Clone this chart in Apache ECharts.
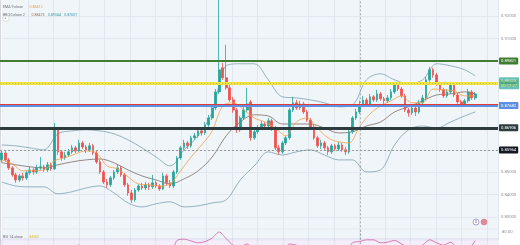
<!DOCTYPE html>
<html><head><meta charset="utf-8">
<script src="https://cdn.jsdelivr.net/npm/echarts@6/dist/echarts.min.js"></script>
<style>html,body{margin:0;padding:0;background:#fff}#c{width:520px;height:245px}</style>
</head><body><div id="c"></div>
<script>
// ---------- DATA ----------
const slotCount = 142; // candles + empty future slots
const opens = [0.8556,0.8587,0.8556,0.8520,0.8489,0.8466,0.8484,0.8475,0.8498,0.8511,
0.8502,0.8520,0.8525,0.8511,0.8534,0.8516,0.8691,0.8592,0.8565,0.8578,
0.8592,0.8610,0.8596,0.8632,0.8614,0.8601,0.8619,0.8587,0.8547,0.8502,
0.8457,0.8444,0.8475,0.8502,0.8520,0.8489,0.8444,0.8408,0.8377,0.8421,
0.8439,0.8430,0.8444,0.8435,0.8453,0.8439,0.8426,0.8484,0.8453,0.8439,
0.8502,0.8565,0.8610,0.8632,0.8619,0.8655,0.8664,0.8686,0.8677,0.8713,
0.8744,0.8789,0.8861,0.8969,0.8924,0.8879,0.8825,0.8780,0.8691,0.8744,
0.8780,0.8816,0.8655,0.8682,0.8699,0.8717,0.8708,0.8731,0.8699,0.8610,
0.8592,0.8632,0.8655,0.8780,0.8812,0.8789,0.8807,0.8771,0.8735,0.8704,
0.8655,0.8619,0.8632,0.8610,0.8592,0.8619,0.8605,0.8623,0.8601,0.8592,
0.8682,0.8744,0.8771,0.8803,0.8825,0.8807,0.8839,0.8825,0.8852,0.8830,
0.8821,0.8834,0.8861,0.8892,0.8874,0.8843,0.8780,0.8767,0.8789,0.8771,
0.8812,0.8834,0.8915,0.8960,0.8937,0.8897,0.8870,0.8843,0.8861,0.8892,
0.8847,0.8816,0.8807,0.8821,0.8861,0.8834];
const closes = [0.8587,0.8556,0.8520,0.8489,0.8466,0.8484,0.8475,0.8498,0.8511,0.8502,
0.8520,0.8525,0.8511,0.8534,0.8516,0.8699,0.8592,0.8565,0.8578,0.8592,
0.8610,0.8596,0.8632,0.8614,0.8601,0.8619,0.8587,0.8547,0.8502,0.8457,
0.8444,0.8475,0.8502,0.8520,0.8489,0.8444,0.8408,0.8377,0.8421,0.8439,
0.8430,0.8444,0.8435,0.8453,0.8439,0.8426,0.8484,0.8453,0.8439,0.8502,
0.8565,0.8610,0.8632,0.8619,0.8655,0.8664,0.8686,0.8677,0.8713,0.8744,
0.8789,0.8861,0.8960,0.8924,0.8879,0.8825,0.8780,0.8691,0.8744,0.8780,
0.8807,0.8655,0.8682,0.8699,0.8717,0.8708,0.8731,0.8699,0.8610,0.8592,
0.8632,0.8655,0.8780,0.8812,0.8789,0.8807,0.8771,0.8735,0.8704,0.8655,
0.8619,0.8632,0.8610,0.8592,0.8619,0.8605,0.8623,0.8601,0.8592,0.8682,
0.8744,0.8771,0.8803,0.8825,0.8807,0.8839,0.8825,0.8852,0.8830,0.8821,
0.8834,0.8861,0.8892,0.8874,0.8843,0.8780,0.8767,0.8789,0.8771,0.8812,
0.8834,0.8915,0.8960,0.8937,0.8897,0.8870,0.8843,0.8861,0.8892,0.8847,
0.8816,0.8807,0.8821,0.8861,0.8834,0.8852];
const lows = [0.8543,0.8547,0.8511,0.8480,0.8453,0.8457,0.8462,0.8466,0.8489,0.8489,
0.8493,0.8511,0.8502,0.8502,0.8507,0.8511,0.8578,0.8552,0.8556,0.8569,
0.8583,0.8587,0.8592,0.8605,0.8587,0.8592,0.8578,0.8538,0.8493,0.8448,
0.8430,0.8435,0.8466,0.8493,0.8480,0.8435,0.8395,0.8363,0.8368,0.8413,
0.8421,0.8421,0.8421,0.8426,0.8430,0.8417,0.8421,0.8444,0.8430,0.8430,
0.8493,0.8556,0.8601,0.8605,0.8610,0.8646,0.8655,0.8664,0.8668,0.8704,
0.8735,0.8780,0.8852,0.8915,0.8870,0.8816,0.8767,0.8677,0.8682,0.8735,
0.8771,0.8641,0.8646,0.8673,0.8691,0.8695,0.8699,0.8686,0.8601,0.8578,
0.8583,0.8623,0.8646,0.8771,0.8780,0.8780,0.8762,0.8726,0.8695,0.8646,
0.8610,0.8605,0.8601,0.8578,0.8583,0.8596,0.8596,0.8592,0.8578,0.8583,
0.8673,0.8735,0.8762,0.8794,0.8798,0.8798,0.8816,0.8816,0.8821,0.8807,
0.8812,0.8825,0.8852,0.8865,0.8834,0.8771,0.8749,0.8758,0.8753,0.8762,
0.8803,0.8825,0.8906,0.8924,0.8888,0.8861,0.8834,0.8834,0.8852,0.8839,
0.8807,0.8794,0.8798,0.8812,0.8825,0.8825];
const highs = [0.8601,0.8596,0.8565,0.8529,0.8498,0.8493,0.8498,0.8507,0.8525,0.8520,
0.8534,0.8569,0.8534,0.8547,0.8543,0.8722,0.8704,0.8601,0.8592,0.8605,
0.8623,0.8619,0.8646,0.8641,0.8623,0.8632,0.8628,0.8596,0.8556,0.8511,
0.8471,0.8484,0.8511,0.8534,0.8529,0.8498,0.8453,0.8421,0.8430,0.8448,
0.8453,0.8457,0.8453,0.8489,0.8462,0.8448,0.8498,0.8493,0.8466,0.8511,
0.8574,0.8619,0.8646,0.8641,0.8664,0.8677,0.8699,0.8695,0.8726,0.8758,
0.8803,0.8874,0.9290,0.8991,0.9072,0.8892,0.8839,0.8789,0.8753,0.8794,
0.8879,0.8825,0.8691,0.8713,0.8731,0.8726,0.8744,0.8740,0.8708,0.8623,
0.8641,0.8664,0.8789,0.8839,0.8825,0.8821,0.8816,0.8780,0.8744,0.8713,
0.8664,0.8646,0.8641,0.8619,0.8628,0.8628,0.8637,0.8632,0.8614,0.8691,
0.8753,0.8785,0.8821,0.8843,0.8834,0.8852,0.8847,0.8870,0.8861,0.8839,
0.8847,0.8874,0.8906,0.8901,0.8883,0.8852,0.8789,0.8803,0.8798,0.8825,
0.8847,0.8928,0.8973,0.8969,0.8946,0.8906,0.8879,0.8874,0.8906,0.8897,
0.8856,0.8825,0.8830,0.8874,0.8870,0.8861];

const bbIdx   = [0,4,8,12,16,20,24,28,32,36,40,44,48,52,56,60,64,68,72,76,80,84,88,92,96,100,104,108,112,116,120,124,128,132,135];
const bbUpper = [0.8623,0.8619,0.8610,0.8601,0.8673,0.8686,0.8691,0.8686,0.8673,0.8646,0.8610,0.8569,0.8529,0.8601,0.8664,0.8771,0.8978,0.8987,0.8987,0.8915,0.8839,0.8834,0.8825,0.8812,0.8794,0.8803,0.8915,0.8942,0.8915,0.8897,0.8915,0.8987,0.8978,0.8960,0.8933];
const bbBasis = [0.8543,0.8534,0.8525,0.8520,0.8534,0.8547,0.8556,0.8560,0.8543,0.8511,0.8484,0.8466,0.8448,0.8471,0.8507,0.8569,0.8664,0.8726,0.8758,0.8753,0.8717,0.8717,0.8717,0.8699,0.8677,0.8682,0.8708,0.8726,0.8771,0.8794,0.8821,0.8847,0.8852,0.8861,0.8852];
const bbLower = [0.8457,0.8439,0.8435,0.8435,0.8404,0.8413,0.8430,0.8439,0.8408,0.8363,0.8345,0.8359,0.8368,0.8345,0.8350,0.8363,0.8377,0.8466,0.8529,0.8592,0.8578,0.8592,0.8601,0.8578,0.8556,0.8556,0.8502,0.8511,0.8623,0.8691,0.8708,0.8699,0.8726,0.8753,0.8771];

const emaIdx = [0,3,6,9,12,15,18,21,24,27,30,33,36,39,42,45,48,51,54,57,60,63,66,69,72,75,78,81,84,87,90,93,96,99,102,105,108,111,114,117,120,123,126,129,132,135];
const ema9   = [0.8556,0.8538,0.8507,0.8507,0.8511,0.8552,0.8565,0.8583,0.8596,0.8587,0.8529,0.8516,0.8480,0.8448,0.8444,0.8439,0.8448,0.8507,0.8569,0.8623,0.8686,0.8798,0.8812,0.8780,0.8744,0.8726,0.8699,0.8664,0.8726,0.8744,0.8699,0.8655,0.8637,0.8632,0.8704,0.8762,0.8798,0.8821,0.8843,0.8812,0.8812,0.8874,0.8870,0.8865,0.8843,0.8843];

const rsiIdx = [0,2,4,6,8,10,12,14,16,18,20,22,24,26,28,30,32,34,36,38,40,42,44,46,48,50,52,54,56,58,60,62,64,66,68,70,72,74,76,78,80,82,84,86,88,90,92,94,96,98,100,102,104,106,108,110,112,114,116,118,120,122,124,126,128,130,132,134,135];
const rsi14  = [45,38,32,36,42,46,44,46,55,50,55,58,54,52,38,32,42,40,32,40,40,42,42,48,44,66,68,65,62,64,70,80,69,58,56,60,48,52,53,42,46,60,58,55,48,42,42,44,45,43,62,64,67,67,62,63,66,60,54,54,58,67,62,58,63,54,56,58,65.5];

const levelValues = [0.89821, 0.89036, 0.88004, 0.87682, 0.86906, 0.85964];
const currentPrice = 0.88520;
const countdown = '00:17:27';
const sessionBreakSlot = 102.85;
const priceTicks = {min: 0.82, max: 0.9273, step: 0.01};
const legendEma = '0.88412';
const legendBB = ['0.88475', '0.89344', '0.87607'];
const legendRsi = '65.50';

// ---------- STYLES ----------
const UP = '#26a69a', DOWN = '#ef5350';
const levelStyles = [
  {color:'#3f7d32', width:2, bg:'#3f7d32', fg:'#fff', type:'solid'},
  {color:'#f5e23a', width:3, bg:'#f5e23a', fg:'#333', type:'solid'},
  {color:'#e53935', width:3, bg:'#e53935', fg:'#fff', type:'solid'},
  {color:'#5d8fe3', width:2, bg:'#5d8fe3', fg:'#fff', type:'solid'},
  {color:'#2e3b3d', width:3, bg:'#2e3b3d', fg:'#fff', type:'solid'},
  {color:'#9a9a9a', width:1, bg:'#131722', fg:'#fff', type:[2,2]}
];
const FONT = 'Roboto, sans-serif';
const GRID_RIGHT = 22;
const PRICE_PX = 2230; // pixels per 1.0 price

const candleData = opens.map((o, i) => [o, closes[i], lows[i], highs[i]]);
const cats = Array.from({length: slotCount}, (_, i) => String(i));
const toXY = (idx, vals) => idx.map((i, k) => [i + 0.5, vals[k]]);
const bbDiff = bbIdx.map((i, k) => [i + 0.5, +(bbUpper[k] - bbLower[k]).toFixed(5)]);

const labelBox = (bg, fg, txt) => ({
  show: true, position: 'end', distance: 1, formatter: txt,
  backgroundColor: bg, color: fg, fontSize: 4.2, fontFamily: FONT,
  padding: [1.2, 2, 0.8, 2], borderRadius: 1, lineHeight: 5
});

const levelMarks = levelValues.map((v, k) => ({
  yAxis: v,
  lineStyle: {color: levelStyles[k].color, width: levelStyles[k].width, type: levelStyles[k].type},
  label: labelBox(levelStyles[k].bg, levelStyles[k].fg, v.toFixed(5))
}));
levelMarks.push({
  yAxis: currentPrice,
  lineStyle: {color: UP, width: 0.6, type: [1, 2], opacity: 0.7},
  label: labelBox(UP, '#fff', currentPrice.toFixed(5) + '\n' + countdown)
});

const busyValues = levelValues.concat([currentPrice]);
const priceLabel = v => {
  if (busyValues.some(b => Math.abs(b - v) < 0.0015)) return '';
  return v.toFixed(5);
};

const chart = echarts.init(document.getElementById('c'), null, {renderer: 'canvas'});
chart.setOption({
  animation: false,
  backgroundColor: '#ffffff',
  grid: [
    {left: 0, right: GRID_RIGHT, top: 0, height: (priceTicks.max - priceTicks.min) * PRICE_PX, outerBoundsMode: 'none', containLabel: false},
    {left: 0, right: GRID_RIGHT, top: 229, height: 51, outerBoundsMode: 'none', containLabel: false},
    {left: 2.5, right: GRID_RIGHT, top: 0, bottom: 0, outerBoundsMode: 'none', containLabel: false}
  ],
  xAxis: [
    {type: 'category', gridIndex: 0, data: cats, boundaryGap: true, show: false},
    {type: 'value', gridIndex: 0, min: 0, max: slotCount, show: false},
    {type: 'value', gridIndex: 1, min: 0, max: slotCount, show: false},
    {type: 'value', gridIndex: 2, min: 0, max: 495.5, interval: 25.5,
     axisLine: {show: false}, axisTick: {show: false}, axisLabel: {show: false},
     splitLine: {show: true, lineStyle: {color: '#eef0f3', width: 1}}}
  ],
  yAxis: [
    {type: 'value', gridIndex: 0, position: 'right', min: priceTicks.min, max: priceTicks.max, interval: priceTicks.step,
     axisLine: {show: true, lineStyle: {color: '#d5d8de', width: 1}}, axisTick: {show: false},
     axisLabel: {fontSize: 4.2, color: '#8a8e97', fontFamily: FONT, margin: 3, formatter: priceLabel, showMinLabel: false, showMaxLabel: false},
     splitLine: {show: true, showMinLine: false, showMaxLine: false, lineStyle: {color: '#eef0f3', width: 1}}},
    {type: 'value', gridIndex: 1, position: 'right', min: 0, max: 85, interval: 10,
     axisLine: {show: true, lineStyle: {color: '#d5d8de', width: 1}}, axisTick: {show: false},
     axisLabel: {fontSize: 4.2, color: '#8a8e97', fontFamily: FONT, margin: 4, formatter: v => v === 80 ? '80.00' : ''},
     splitLine: {show: false}},
    {type: 'value', gridIndex: 2, min: 0, max: 1, show: false}
  ],
  series: [
    {type: 'line', xAxisIndex: 3, yAxisIndex: 2, data: [], silent: true},
    // Bollinger fill
    {name: 'bbBase', type: 'line', xAxisIndex: 1, yAxisIndex: 0, stack: 'bb', smooth: 0.35, symbol: 'none',
     data: toXY(bbIdx, bbLower), lineStyle: {opacity: 0}, silent: true, z: 1},
    {name: 'bbFill', type: 'line', xAxisIndex: 1, yAxisIndex: 0, stack: 'bb', smooth: 0.35, symbol: 'none',
     data: bbDiff, lineStyle: {opacity: 0}, areaStyle: {color: 'rgba(120,170,200,0.16)'}, silent: true, z: 1},
    {name: 'bbUpper', type: 'line', xAxisIndex: 1, yAxisIndex: 0, smooth: 0.35, symbol: 'none',
     data: toXY(bbIdx, bbUpper), lineStyle: {color: '#7f9fae', width: 0.8}, silent: true, z: 2},
    {name: 'bbLower', type: 'line', xAxisIndex: 1, yAxisIndex: 0, smooth: 0.35, symbol: 'none',
     data: toXY(bbIdx, bbLower), lineStyle: {color: '#7f9fae', width: 0.8}, silent: true, z: 2},
    {name: 'bbBasis', type: 'line', xAxisIndex: 1, yAxisIndex: 0, smooth: 0.35, symbol: 'none',
     data: toXY(bbIdx, bbBasis), lineStyle: {color: '#6d5a52', width: 0.7}, silent: true, z: 2,
     markLine: {symbol: ['none', 'none'], silent: true, label: {show: false},
       lineStyle: {color: '#9aa0a8', type: [2, 2], width: 0.8},
       data: [{xAxis: sessionBreakSlot}]}},
    // candles
    {name: 'price', type: 'candlestick', xAxisIndex: 0, yAxisIndex: 0, data: candleData, barWidth: '62%',
     itemStyle: {color: UP, color0: DOWN, borderColor: UP, borderColor0: DOWN, borderWidth: 0.8}, z: 3,
     markLine: {symbol: ['none', 'none'], silent: true, data: levelMarks}},
    {name: 'ema', type: 'line', xAxisIndex: 1, yAxisIndex: 0, smooth: 0.35, symbol: 'none',
     data: toXY(emaIdx, ema9), lineStyle: {color: '#f4a04a', width: 0.8}, silent: true, z: 4},
    // RSI
    {name: 'rsi', type: 'line', xAxisIndex: 2, yAxisIndex: 1, smooth: 0.3, symbol: 'none',
     data: toXY(rsiIdx, rsi14), lineStyle: {color: '#d05ca8', width: 0.8}, silent: true, z: 3,
     markArea: {silent: true, itemStyle: {color: 'rgba(150,90,210,0.10)'}, data: [[{yAxis: 30}, {yAxis: 70}]]},
     markLine: {symbol: ['none', 'none'], silent: true, label: {show: false},
       data: [
         {xAxis: sessionBreakSlot, lineStyle: {color: '#9aa0a8', type: [2, 2], width: 0.8}}
       ]}}
  ],
  graphic: [
    {type: 'line', shape: {x1: 0, y1: 229, x2: 498, y2: 229}, style: {stroke: '#e6e8ee', lineWidth: 1}, z: 10},
    {type: 'text', left: 3, top: 1, z: 20, style: {
      text: '{l|EMA 9 close}  {o|' + legendEma + '}',
      rich: {l: {fontSize: 3.6, fill: '#6a6d78', fontFamily: FONT}, o: {fontSize: 3.6, fill: '#f4a04a', fontFamily: FONT}}}},
    {type: 'text', left: 3, top: 9, z: 20, style: {
      text: '{l|BB 20 close 2}  {b|' + legendBB[0] + '} {u|' + legendBB[1] + '} {u|' + legendBB[2] + '}',
      rich: {l: {fontSize: 3.6, fill: '#6a6d78', fontFamily: FONT}, b: {fontSize: 3.6, fill: '#a0705a', fontFamily: FONT},
             u: {fontSize: 3.6, fill: '#3a9bb0', fontFamily: FONT}}}},
    {type: 'rect', shape: {x: 3, y: 16, width: 6, height: 5, r: 1}, style: {fill: '#fff', stroke: '#c9ccd3', lineWidth: 0.6}, z: 20},
    {type: 'text', left: 4.6, top: 16.6, z: 21, style: {text: '^', fontSize: 4, fill: '#555', fontFamily: FONT}},
    {type: 'text', left: 3, top: 231.5, z: 20, style: {
      text: '{l|RSI 14 close}  {o|' + legendRsi + '}',
      rich: {l: {fontSize: 3.6, fill: '#6a6d78', fontFamily: FONT}, o: {fontSize: 3.6, fill: '#e0a800', fontFamily: FONT}}}},
    {type: 'circle', shape: {cx: 476, cy: 222, r: 3}, style: {fill: '#fff', stroke: '#8b7fb8', lineWidth: 0.7}, z: 20},
    {type: 'text', left: 474.8, top: 219.8, z: 21, style: {text: 'D', fontSize: 3.6, fill: '#6f63a3', fontFamily: FONT}},
    {type: 'circle', shape: {cx: 484, cy: 222, r: 3}, style: {fill: '#e58a9a', stroke: '#d06e80', lineWidth: 0.5}, z: 20}
  ]
});
</script>
</body></html>
